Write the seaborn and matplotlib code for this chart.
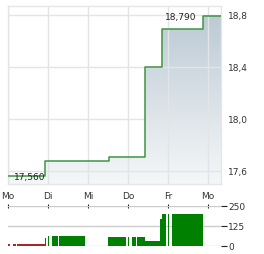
import numpy as np
import pandas as pd
import matplotlib
matplotlib.use("Agg")
import matplotlib.pyplot as plt
import seaborn as sns
from matplotlib.colors import LinearSegmentedColormap

# ---- data ----
day_labels = ["Mo", "Di", "Mi", "Do", "Fr", "Mo"]
price_days = [0.0, 0.93, 2.52, 3.42, 3.84, 4.87, 5.325]
price_vals = [17.56, 17.68, 17.71, 18.40, 18.69, 18.79, 18.79]
price_ticks = [17.6, 18.0, 18.4, 18.8]
price_tick_labels = ["17,6", "18,0", "18,4", "18,8"]
low_label = "17,560"
high_label = "18,790"

vol_start = [0.0, 0.125, 0.225, 0.93, 1.0, 1.1, 1.275, 2.5, 3.0, 3.1, 3.225, 3.425, 3.8, 3.85, 4.0, 4.1, 4.9, 4.98, 5.06, 5.14, 5.22]
vol_end   = [0.05, 0.2, 0.925, 0.96, 1.025, 1.25, 1.925, 2.95, 3.025, 3.2, 3.425, 3.8, 3.85, 3.95, 4.025, 4.875, 4.95, 5.02, 5.1, 5.18, 5.3]
vol_value = [12, 12, 12, 50, 62, 62, 62, 55, 55, 55, 55, 30, 170, 200, 200, 200, 3, 2, 2, 2, 2]
vol_up    = [False, False, False, True, True, True, True, True, True, True, True, True, True, True, True, True, True, True, True, True, True]
vol_ticks = [0, 125, 250]

# ---- figure ----
sns.set_style("white")
plt.rcParams["font.family"] = ["DejaVu Sans"]
W, H = 264, 255
fig = plt.figure(figsize=(W / 100, H / 100), dpi=100)

ax = fig.add_axes([8 / W, (H - 185) / H, 213 / W, 178 / H])
axv = fig.add_axes([8 / W, (H - 247) / H, 213 / W, 40 / H])

xmax = 5.325
ylo, yhi = 17.5, 18.869

df = pd.DataFrame({"day": price_days, "price": price_vals})

# gradient fill under step line
poly = ax.fill_between(df["day"], df["price"], ylo, step="post", color="none", lw=0)
grad = np.linspace(0, 1, 256).reshape(-1, 1)
cmap = LinearSegmentedColormap.from_list("g", ["#f5f7f8", "#bccad4"])
im = ax.imshow(grad, extent=[0, xmax, ylo, 18.8], origin="lower", aspect="auto",
               cmap=cmap, zorder=0.2)
im.set_clip_path(poly.get_paths()[0], transform=ax.transData)

sns.lineplot(data=df, x="day", y="price", ax=ax, drawstyle="steps-post",
             color="#3f9440", lw=1.1, zorder=3)

ax.set_xlim(0, xmax)
ax.set_ylim(ylo, yhi)
ax.set_xticks(range(len(day_labels)))
ax.set_xticklabels(day_labels)
ax.set_yticks(price_ticks)
ax.set_yticklabels(price_tick_labels)
ax.yaxis.tick_right()
ax.tick_params(axis="both", length=0, labelsize=6.5, colors="#333333")
ax.tick_params(axis="x", pad=5)
ax.tick_params(axis="y", pad=5)
ax.grid(True, color="#e2e5e8", lw=1, zorder=1)
ax.set_axisbelow(False)
for line in ax.get_xgridlines() + ax.get_ygridlines():
    line.set_zorder(1)
for s in ax.spines.values():
    s.set_color("#e6e6e6")
    s.set_linewidth(1)
ax.set_xlabel("")
ax.set_ylabel("")

ax.text(0.54, price_vals[0], low_label, ha="center", va="center", fontsize=6.5, color="#222222", zorder=4)
ax.text(4.33, price_vals[-1], high_label, ha="center", va="center", fontsize=6.5, color="#222222", zorder=4)

# volume
colors = ["#008000" if u else "#b22222" for u in vol_up]
widths = [e - s for s, e in zip(vol_start, vol_end)]
axv.bar(vol_start, vol_value, width=widths, align="edge", color=colors, lw=0, zorder=3)
axv.set_xlim(0, xmax)
axv.set_ylim(0, 250)
axv.set_yticks(vol_ticks)
axv.set_yticklabels([str(v) for v in vol_ticks])
axv.yaxis.tick_right()
axv.tick_params(axis="y", length=4, width=0.8, color="#222222", labelsize=6.5, pad=1, labelcolor="#333333")
axv.xaxis.tick_top()
axv.set_xticks(range(len(day_labels)))
axv.tick_params(axis="x", direction="inout", length=3, width=0.8, color="#222222", labeltop=False, labelbottom=False)
axv.grid(True, axis="y", color="#cccccc", lw=1)
axv.set_axisbelow(True)
for s in axv.spines.values():
    s.set_visible(False)

fig.savefig("out.png", dpi=100)
